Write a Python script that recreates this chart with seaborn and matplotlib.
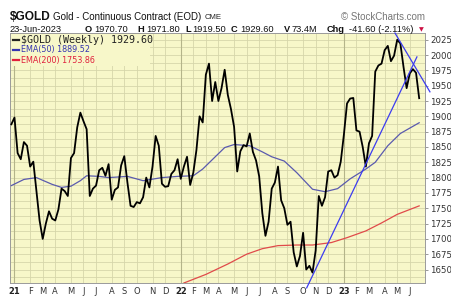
import numpy as np
import pandas as pd
import matplotlib
matplotlib.use("Agg")
import matplotlib.pyplot as plt
from matplotlib.lines import Line2D
from matplotlib.patches import Rectangle
import seaborn as sns

# ---------------- data ----------------
start_date = "2020-12-25"
end_date = "2023-06-23"

gold_close = [1887, 1898, 1840, 1830, 1858, 1852, 1818, 1826, 1778, 1730,
              1700, 1725, 1745, 1733, 1730, 1748, 1782, 1778, 1770, 1832,
              1840, 1882, 1906, 1892, 1879, 1770, 1782, 1787, 1812, 1816,
              1803, 1822, 1764, 1780, 1784, 1820, 1835, 1792, 1754, 1752,
              1760, 1758, 1768, 1800, 1784, 1818, 1868, 1852, 1790, 1785,
              1786, 1806, 1812, 1830, 1798, 1818, 1834, 1788, 1808, 1845,
              1900, 1890, 1968, 1986, 1925, 1956, 1925, 1946, 1976, 1935,
              1912, 1883, 1810, 1843, 1853, 1851, 1872, 1842, 1828, 1802,
              1742, 1705, 1728, 1782, 1792, 1818, 1763, 1750, 1723, 1728,
              1678, 1655, 1672, 1710, 1650, 1656, 1645, 1681, 1770, 1754,
              1768, 1810, 1812, 1800, 1804, 1826, 1870, 1921, 1929, 1930,
              1877, 1875, 1850, 1818, 1856, 1868, 1973, 1983, 1986, 2008,
              2015, 1990, 1999, 2025, 2019, 1981, 1946, 1970, 1977, 1971,
              1929.6]

ema50_week = [0, 4, 8, 13, 16, 19, 22, 24, 28, 31, 37, 42, 48, 53, 58, 61, 65,
              68, 71, 76, 80, 83, 87, 91, 96, 100, 104, 108, 113, 116, 120, 124, 130]
ema50_value = [1787, 1797, 1800, 1789, 1784, 1786, 1795, 1803, 1802, 1800, 1802,
               1795, 1800, 1802, 1803, 1814, 1834, 1849, 1854, 1852, 1842, 1834,
               1827, 1808, 1781, 1777, 1782, 1798, 1814, 1825, 1852, 1872, 1889.52]

ema200_week = [55, 62, 69, 75, 80, 85, 91, 96, 102, 107, 113, 118, 123, 130]
ema200_value = [1628, 1642, 1659, 1675, 1684, 1689, 1690, 1690, 1694, 1702,
                1713, 1726, 1740, 1753.86]

trend_up_dates = ["2022-10-15", "2023-06-18"]
trend_up_values = [1620, 1997]
trend_down_dates = ["2023-04-30", "2023-07-17"]
trend_down_values = [2036, 1940]

month_labels = ["21", "F", "M", "A", "M", "J", "J", "A", "S", "O", "N", "D",
                "22", "F", "M", "A", "M", "J", "J", "A", "S", "O", "N", "D",
                "23", "F", "M", "A", "M", "J"]
price_ticks = [1650, 1675, 1700, 1725, 1750, 1775, 1800, 1825, 1850, 1875,
               1900, 1925, 1950, 1975, 2000, 2025]

title_symbol = "$GOLD"
title_name = "Gold - Continuous Contract (EOD)"
exchange = "CME"
quote_date = "23-Jun-2023"
legend_texts = ["$GOLD (Weekly) 1929.60", "EMA(50) 1889.52", "EMA(200) 1753.86"]

# ---------------- frames ----------------
dates = pd.date_range(start_date, end_date, freq="W-FRI")
df_gold = pd.DataFrame({"date": dates, "close": gold_close})
df_e50 = pd.DataFrame({"date": dates[ema50_week], "ema": ema50_value})
df_e200 = pd.DataFrame({"date": dates[ema200_week], "ema": ema200_value})

# first weekly bar of each month -> grid / label position
first_bar = [d for i, d in enumerate(dates) if i > 0 and d.month != dates[i - 1].month]

# ---------------- figure ----------------
W, H = 452, 296
fig = plt.figure(figsize=(W / 100, H / 100), dpi=100)
fig.patch.set_facecolor("white")
pl, pr, pt, pb = 10, 425, 33, 283
ax = fig.add_axes([pl / W, 1 - pb / H, (pr - pl) / W, (pb - pt) / H])

bg = "#F7F7C9"
grid_c = "#D6D6AA"
year_c = "#B4B48A"
ax.set_facecolor(bg)

sns.lineplot(data=df_e200, x="date", y="ema", ax=ax, color="#E04A4A", lw=0.9,
             legend=False, zorder=3)
sns.lineplot(data=df_e50, x="date", y="ema", ax=ax, color="#5A5AAE", lw=0.9,
             legend=False, zorder=3)
sns.lineplot(data=df_gold, x="date", y="close", ax=ax, color="black", lw=1.3,
             legend=False, zorder=5)
ax.plot(pd.to_datetime(trend_up_dates), trend_up_values, color="#3C3CF0", lw=0.9,
        zorder=6, clip_on=False)
ax.plot(pd.to_datetime(trend_down_dates), trend_down_values, color="#3C3CF0", lw=0.9,
        zorder=6, clip_on=False)

x0 = dates[0] - pd.Timedelta(days=3)
x1 = dates[-1] + pd.Timedelta(days=13)
ax.set_xlim(x0, x1)
ax.set_ylim(1628, 2036)

# y axis on right
ax.yaxis.tick_right()
ax.set_yticks(price_ticks)
ax.set_yticklabels([str(v) for v in price_ticks])
ax.set_yticks([v + 12.5 for v in price_ticks[:-1]] + [1637.5], minor=True)
ax.tick_params(axis="y", which="major", labelsize=6.2, length=2, width=0.6,
               color="#888888", labelcolor="#333333", pad=1.5)
ax.tick_params(axis="y", which="minor", length=0)
ax.yaxis.set_tick_params(labelleft=False)

# x axis
ax.set_xticks(first_bar)
ax.set_xticklabels(month_labels)
ax.tick_params(axis="x", which="major", labelsize=6, length=0, pad=3,
               labelcolor="#333333")
for lab in ax.get_xticklabels():
    if lab.get_text().isdigit():
        lab.set_fontweight("bold")
        lab.set_color("#222222")

ax.grid(True, axis="y", which="both", color=grid_c, lw=0.6, zorder=0)
ax.grid(True, axis="x", which="major", color=grid_c, lw=0.6, zorder=0)
ax.set_axisbelow(True)
for d, lab in zip(first_bar, month_labels):
    if lab.isdigit():
        ax.axvline(d, color=year_c, lw=0.8, zorder=1)

ax.set_xlabel("")
ax.set_ylabel("")
for s in ax.spines.values():
    s.set_color("#9A9A9A")
    s.set_linewidth(0.7)


def px(x, y):
    return x / W, 1 - y / H


# ---------------- header ----------------
sans = ["Liberation Sans", "DejaVu Sans"]
fig.text(*px(10, 17), title_symbol, family=sans, fontsize=8.6, fontweight="bold",
         va="center", ha="left", color="#111111")
fig.text(*px(53, 17), title_name, family=sans, fontsize=7, va="center", ha="left",
         color="#111111")
fig.text(*px(205, 17.5), exchange, family=sans, fontsize=5.6, va="center", ha="left",
         color="#222222")
fig.text(*px(425, 17), "\u00a9 StockCharts.com", family=sans, fontsize=7, va="center",
         ha="right", color="#777777")

row2 = [(10, quote_date, "normal"),
        (85, "O", "bold"), (94.5, "1970.70", "normal"),
        (137, "H", "bold"), (146, "1971.80", "normal"),
        (185, "L", "bold"), (192, "1919.50", "normal"),
        (231, "C", "bold"), (240, "1929.60", "normal"),
        (284, "V", "bold"), (292, "73.4M", "normal"),
        (327, "Chg", "bold"), (349, "-41.60 (-2.11%)", "normal")]
for x, t, w in row2:
    fig.text(*px(x, 29.5), t, family=sans, fontsize=6.7, fontweight=w, va="center",
             ha="left", color="#111111")
fig.text(*px(421, 29.5), "\u25bc", family=["DejaVu Sans"], fontsize=4.5, va="center",
         ha="center", color="#CC1144")

# ---------------- legend ----------------
fig.add_artist(Rectangle(px(10.5, 66), (150 - 10.5) / W, (66 - 33.5) / H,
                         transform=fig.transFigure, facecolor=bg, edgecolor="none",
                         zorder=2))
leg_colors = ["#222222", "#3434B0", "#E0203C"]
leg_y = [40, 50, 60]
leg_fonts = [(["DejaVu Sans Mono"], 7.2), (["DejaVu Sans"], 5.8), (["DejaVu Sans"], 5.8)]
for t, c, y, (fam, fs) in zip(legend_texts, leg_colors, leg_y, leg_fonts):
    fig.add_artist(Line2D([13 / W, 19 / W], [1 - y / H, 1 - y / H], color=c, lw=1.6,
                          transform=fig.transFigure, zorder=4))
    fig.text(*px(21, y), t, family=fam, fontsize=fs, va="center", ha="left", color=c,
             zorder=5)

fig.savefig("out.png", dpi=100, facecolor="white")
